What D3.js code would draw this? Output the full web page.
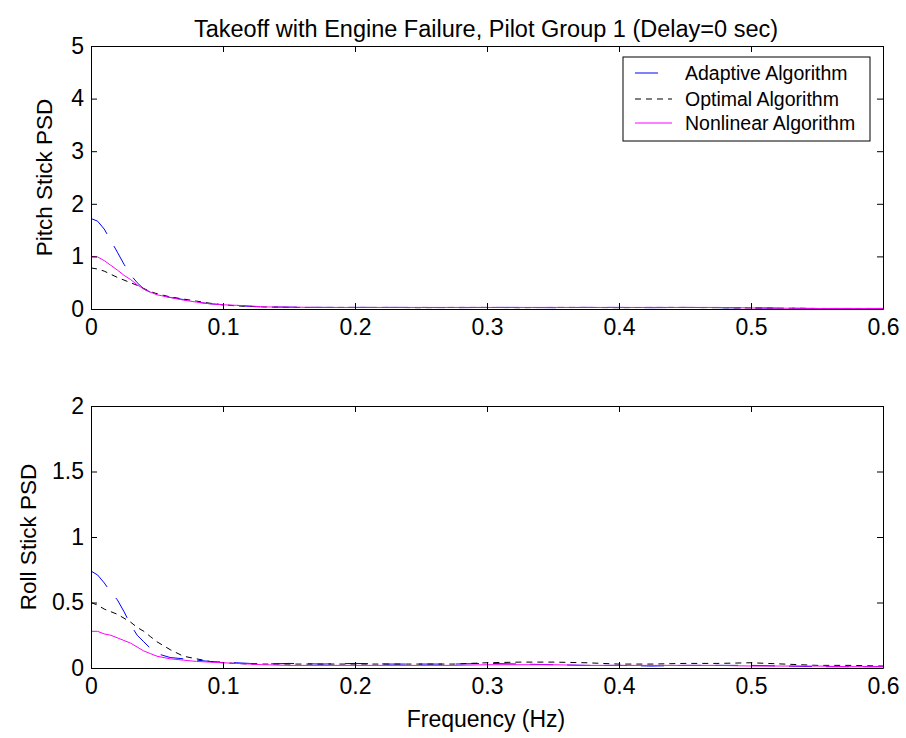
<!DOCTYPE html>
<html>
<head>
<meta charset="utf-8">
<script src="https://cdn.jsdelivr.net/npm/d3@7"></script>
<style>
  html, body { margin: 0; padding: 0; background: #fff; }
  svg { display: block; font-family: "Liberation Sans", Arial, sans-serif; }
</style>
</head>
<body>
<svg id="chart" width="906" height="738"></svg>
<script>
// Frequency grid (Hz) shared by all spectra
const freq = [0, 0.005, 0.01, 0.015, 0.02, 0.025, 0.03, 0.035, 0.04, 0.045, 0.05,
  0.06, 0.07, 0.08, 0.09, 0.1, 0.11, 0.12, 0.13, 0.15, 0.175, 0.2, 0.225, 0.25,
  0.275, 0.3, 0.325, 0.35, 0.375, 0.4, 0.425, 0.45, 0.475, 0.5, 0.525, 0.55, 0.575, 0.6];

// Pitch stick PSD
const pitchAdaptive = [1.72, 1.67, 1.52, 1.3, 1.08, 0.85, 0.65, 0.5, 0.38, 0.32, 0.27,
  0.22, 0.18, 0.13, 0.1, 0.08, 0.07, 0.05, 0.04, 0.035, 0.03, 0.03, 0.03, 0.03,
  0.025, 0.03, 0.03, 0.025, 0.03, 0.03, 0.025, 0.03, 0.025, 0.02, 0.015, 0.01, 0.01, 0.01];
const pitchOptimal = [0.78, 0.76, 0.72, 0.66, 0.6, 0.55, 0.5, 0.45, 0.39, 0.33, 0.29,
  0.23, 0.19, 0.15, 0.11, 0.08, 0.06, 0.05, 0.04, 0.03, 0.03, 0.03, 0.03, 0.025,
  0.03, 0.03, 0.025, 0.03, 0.03, 0.025, 0.03, 0.03, 0.025, 0.02, 0.015, 0.01, 0.01, 0.01];
const pitchNonlinear = [1.0, 0.99, 0.92, 0.83, 0.74, 0.64, 0.56, 0.46, 0.38, 0.32, 0.27,
  0.22, 0.17, 0.13, 0.1, 0.08, 0.07, 0.06, 0.04, 0.035, 0.03, 0.03, 0.03, 0.03,
  0.03, 0.03, 0.03, 0.03, 0.03, 0.03, 0.03, 0.03, 0.03, 0.02, 0.015, 0.01, 0.01, 0.01];

// Roll stick PSD
const rollAdaptive = [0.74, 0.71, 0.65, 0.58, 0.52, 0.43, 0.33, 0.25, 0.2, 0.15, 0.11,
  0.08, 0.07, 0.06, 0.05, 0.045, 0.04, 0.035, 0.03, 0.035, 0.03, 0.035, 0.03, 0.03,
  0.03, 0.035, 0.03, 0.025, 0.02, 0.02, 0.015, 0.02, 0.02, 0.02, 0.015, 0.01, 0.01, 0.01];
const rollOptimal = [0.5, 0.48, 0.45, 0.43, 0.41, 0.38, 0.35, 0.31, 0.28, 0.24, 0.2,
  0.14, 0.09, 0.07, 0.05, 0.04, 0.035, 0.03, 0.03, 0.03, 0.03, 0.03, 0.03, 0.03,
  0.03, 0.04, 0.045, 0.045, 0.04, 0.03, 0.03, 0.035, 0.035, 0.04, 0.03, 0.02, 0.02, 0.015];
const rollNonlinear = [0.28, 0.28, 0.26, 0.25, 0.23, 0.21, 0.19, 0.16, 0.13, 0.11, 0.09,
  0.07, 0.06, 0.05, 0.045, 0.04, 0.035, 0.03, 0.025, 0.02, 0.02, 0.02, 0.02, 0.02,
  0.02, 0.025, 0.025, 0.025, 0.02, 0.02, 0.02, 0.02, 0.02, 0.015, 0.015, 0.015, 0.01, 0.01];

const seriesNames = ["Adaptive Algorithm", "Optimal Algorithm", "Nonlinear Algorithm"];
const xTicks = [0, 0.1, 0.2, 0.3, 0.4, 0.5, 0.6];
const pitchTicks = [0, 1, 2, 3, 4, 5];
const rollTicks = [0, 0.5, 1, 1.5, 2];

const titleText = "Takeoff with Engine Failure, Pilot Group 1 (Delay=0 sec)";
const xLabel = "Frequency (Hz)";

const styles = [
  { color: "#0000ff", dash: "23,14" },
  { color: "#000000", dash: "6,5" },
  { color: "#ff00ff", dash: null }
];

const svg = d3.select("#chart");
const left = 91, right = 883;
const FS = "23px";
const x = d3.scaleLinear().domain([0, 0.6]).range([left, right]);
const fmt = d => String(d);

function panel(top, bottom, yMax, yTicks, series, ylabel, labelX) {
  const y = d3.scaleLinear().domain([0, yMax]).range([bottom, top]);
  const g = svg.append("g");

  const line = d3.line().x((d, i) => x(freq[i])).y(d => y(d));
  series.forEach((vals, k) => {
    g.append("path")
      .datum(vals)
      .attr("fill", "none")
      .attr("stroke", styles[k].color)
      .attr("stroke-width", 1)
      .attr("stroke-dasharray", styles[k].dash)
      .attr("d", line);
  });

  const tickLen = 6;
  const axB = d3.axisBottom(x).tickValues(xTicks).tickFormat(fmt).tickSizeInner(-tickLen).tickSizeOuter(0).tickPadding(10);
  const axT = d3.axisTop(x).tickValues(xTicks).tickFormat("").tickSizeInner(-tickLen).tickSizeOuter(0);
  const axL = d3.axisLeft(y).tickValues(yTicks).tickFormat(fmt).tickSizeInner(-tickLen).tickSizeOuter(0).tickPadding(7);
  const axR = d3.axisRight(y).tickValues(yTicks).tickFormat("").tickSizeInner(-tickLen).tickSizeOuter(0);

  const gb = g.append("g").attr("transform", `translate(0,${bottom})`).call(axB);
  const gt = g.append("g").attr("transform", `translate(0,${top})`).call(axT);
  const gl = g.append("g").attr("transform", `translate(${left},0)`).call(axL);
  const gr = g.append("g").attr("transform", `translate(${right},0)`).call(axR);
  [gb, gt, gl, gr].forEach(a => {
    a.selectAll("path.domain").attr("stroke", "#000").attr("stroke-width", 1);
    a.selectAll(".tick line").attr("stroke", "#000");
    a.selectAll("text").attr("fill", "#000").style("font-size", FS)
      .style("font-family", "'Liberation Sans', Arial, sans-serif");
  });
  gb.selectAll(".tick").filter(d => d === 0.6 || d === 0).select("line").remove();

  g.append("text")
    .attr("transform", `translate(${labelX},${(top + bottom) / 2}) rotate(-90)`)
    .attr("text-anchor", "middle")
    .attr("dy", "0.35em")
    .style("font-size", "22.5px")
    .text(ylabel);
  return y;
}

panel(46, 309, 5, pitchTicks, [pitchAdaptive, pitchOptimal, pitchNonlinear], "Pitch Stick PSD", 44);
panel(406, 668, 2, rollTicks, [rollAdaptive, rollOptimal, rollNonlinear], "Roll Stick PSD", 28);

svg.append("text")
  .attr("x", 486).attr("y", 37)
  .attr("text-anchor", "middle")
  .style("font-size", "23.5px")
  .text(titleText);

svg.append("text")
  .attr("x", 486).attr("y", 727)
  .attr("text-anchor", "middle")
  .style("font-size", FS)
  .text(xLabel);

// Legend
const lg = svg.append("g");
lg.append("rect")
  .attr("x", 623).attr("y", 57).attr("width", 247).attr("height", 84)
  .attr("fill", "#fff").attr("stroke", "#000").attr("stroke-width", 1);
const rowY = [73, 99, 123];
seriesNames.forEach((name, k) => {
  lg.append("line")
    .attr("x1", 635).attr("x2", 672)
    .attr("y1", rowY[k]).attr("y2", rowY[k])
    .attr("stroke", styles[k].color)
    .attr("stroke-width", 1)
    .attr("stroke-dasharray", styles[k].dash);
  lg.append("text")
    .attr("x", 685).attr("y", rowY[k])
    .attr("dy", "0.35em")
    .style("font-size", "19.5px")
    .text(name);
});
</script>
</body>
</html>
